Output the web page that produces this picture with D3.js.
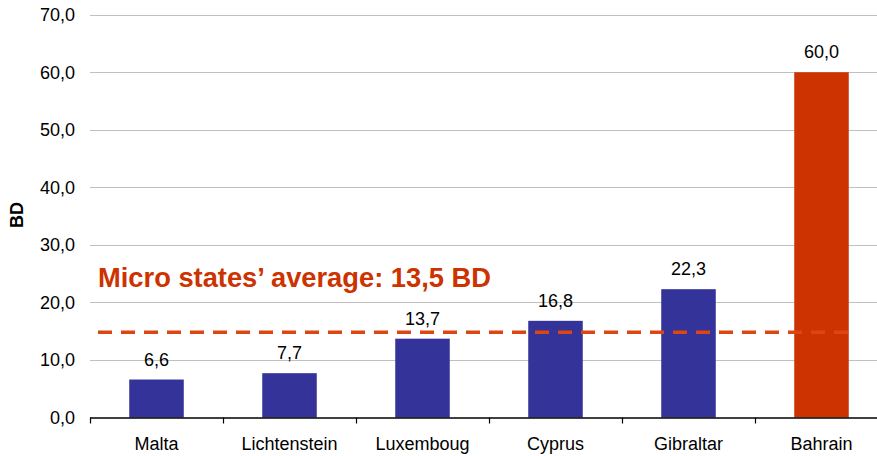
<!DOCTYPE html>
<html><head><meta charset="utf-8">
<script src="https://cdn.jsdelivr.net/npm/d3@7"></script>
<style>body{margin:0;background:#fff}svg{display:block}text{font-family:"Liberation Sans",Arial,sans-serif}</style>
</head><body>
<svg id="c" width="877" height="456"></svg>
<script>
const categories = ["Malta","Lichtenstein","Luxemboug","Cyprus","Gibraltar","Bahrain"];
const values = [6.6, 7.7, 13.7, 16.8, 22.3, 60.0];
const highlight = [false,false,false,false,false,true];
const yTicks = [0,10,20,30,40,50,60,70];
const averageLineValue = 14.8;
const averageLabel = "Micro states’ average: 13,5 BD";
const yTitle = "BD";

const svg = d3.select("#c");
const x0 = 90, bandW = 133;
const x = d3.scaleBand().domain(categories).range([x0, x0 + bandW*categories.length]).paddingInner(0.59).paddingOuter(0.295);
const y = d3.scaleLinear().domain([0,70]).range([417.5, 14.7]);
const fmt = v => d3.format(".1f")(v).replace(".", ",");

// grid
svg.append("g").selectAll("line").data(yTicks.filter(d=>d>0)).join("line")
  .attr("x1", x0).attr("x2", 877).attr("y1", d=>Math.round(y(d))+0.5).attr("y2", d=>Math.round(y(d))+0.5)
  .attr("stroke", "#c0c0c0").attr("stroke-width", 1);

// y labels
const ya = svg.append("g").attr("transform", `translate(${x0},0)`)
  .call(d3.axisLeft(y).tickValues(yTicks).tickFormat(fmt).tickSize(0).tickPadding(15));
ya.select(".domain").remove();
ya.selectAll("text").attr("font-size", 18).attr("fill", "#000").style("font-family", '"Liberation Sans",Arial,sans-serif');

// bars
svg.append("g").selectAll("rect").data(categories).join("rect")
  .attr("x", d=>x(d)).attr("width", x.bandwidth())
  .attr("y", (d,i)=>y(values[i])).attr("height", (d,i)=>y(0)-y(values[i]))
  .attr("fill", (d,i)=>highlight[i] ? "#cc3300" : "#333399");

// value labels
svg.append("g").selectAll("text").data(categories).join("text")
  .attr("x", d=>x(d)+x.bandwidth()/2).attr("y", (d,i)=>y(values[i])-14)
  .attr("text-anchor", "middle").attr("font-size", 18).attr("fill", "#000")
  .text((d,i)=>fmt(values[i]));

// x axis
const xTickScale = d3.scaleLinear().domain([0, categories.length]).range([x0, x0 + bandW*categories.length]);
const xa = svg.append("g");
xa.append("line").attr("x1", x0).attr("x2", 877).attr("y1", Math.round(y(0))).attr("y2", Math.round(y(0)))
  .attr("stroke", "#000").attr("stroke-width", 1.5);
xa.selectAll("line.t").data(d3.range(categories.length)).join("line").attr("class","t")
  .attr("x1", d=>Math.round(xTickScale(d))+0.5).attr("x2", d=>Math.round(xTickScale(d))+0.5)
  .attr("y1", y(0)).attr("y2", y(0)+6).attr("stroke", "#000").attr("stroke-width", 1.2);
xa.selectAll("text").data(categories).join("text")
  .attr("x", d=>x(d)+x.bandwidth()/2).attr("y", 450).attr("text-anchor","middle")
  .attr("font-size", 18).attr("fill","#000").text(d=>d);

// average line
svg.append("line").attr("x1", 98).attr("x2", 848)
  .attr("y1", y(averageLineValue)).attr("y2", y(averageLineValue))
  .attr("stroke", "#dc4612").attr("stroke-width", 3.5).attr("stroke-dasharray", "14 9");
svg.append("text").attr("x", 98).attr("y", 287).attr("font-size", 27.3).attr("font-weight", "bold")
  .attr("fill", "#cc3300").text(averageLabel);

// y title
svg.append("text").attr("transform", "translate(23,215) rotate(-90)").attr("text-anchor","middle")
  .attr("font-size", 18).attr("font-weight","bold").attr("fill","#000").text(yTitle);
</script>
</body></html>
